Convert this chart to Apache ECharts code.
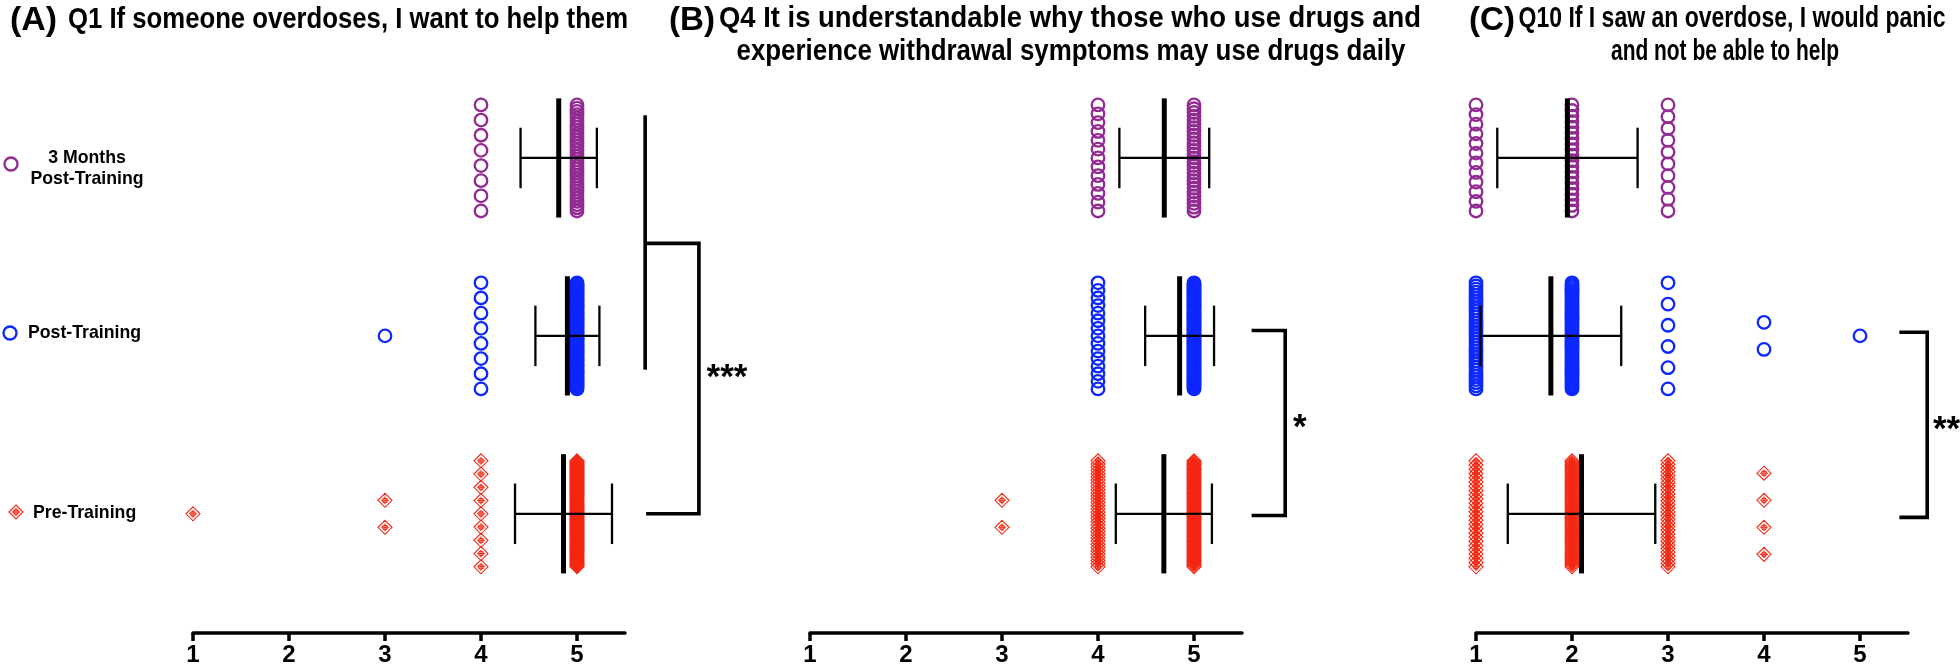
<!DOCTYPE html>
<html><head><meta charset="utf-8">
<script src="https://cdn.jsdelivr.net/npm/echarts@6/dist/echarts.min.js"></script>
<style>html,body{margin:0;padding:0;background:#fff}#c{width:1960px;height:666px}</style>
</head><body><div id="c"></div>
<script>
// ---------------- data ----------------
const likertValues = [1, 2, 3, 4, 5];
const xTickValues = [1, 2, 3, 4, 5];
const groups = ['Pre-Training', 'Post-Training', '3 Months\nPost-Training'];
// number of responses at Likert values 1..5
const q1Pre   = [1, 0, 2, 9, 109];
const q1Post  = [0, 0, 1, 8, 91];
const q1M3    = [0, 0, 0, 8, 34];
const q4Pre   = [0, 0, 2, 34, 85];
const q4Post  = [0, 0, 0, 15, 85];
const q4M3    = [0, 0, 0, 13, 29];
const q10Pre  = [26, 61, 30, 4, 0];
const q10Post = [35, 56, 6, 2, 1];
const q10M3   = [12, 20, 10, 0, 0];
const panelLabels = ['(A)', '(B)', '(C)'];
const titleLines = [
  ['Q1 If someone overdoses, I want to help them'],
  ['Q4 It is understandable why those who use drugs and', 'experience withdrawal symptoms may use drugs daily'],
  ['Q10 If I saw an overdose, I would panic', 'and not be able to help']
];
const significance = ['***', '*', '**'];

// ---------------- layout ----------------
const panels = [[q1Pre, q1Post, q1M3], [q4Pre, q4Post, q4M3], [q10Pre, q10Post, q10M3]];
const gridLefts = [193, 810, 1476];
const GRID_TOP = 69, GRID_H = 564, GRID_W = 432;
const Y_MIN = 0.33, Y_MAX = 3.5;
const MAX_STEP = 0.152, MAX_SPAN = 0.596;
const MEAN_HALF = 0.335, CAP_HALF = 0.17;
const COLORS = ['#F42712', '#0D27FF', '#912A91'];
const DIAMOND = 'path://M10 0L20 10L10 20L0 10Z M10 4.5L10 15.5 M4.5 10L15.5 10 M13.3 10A3.3 3.3 0 1 1 6.7 10A3.3 3.3 0 1 1 13.3 10';
const bracketPaths = [
  [[[5.71, 3.24], [5.71, 1.81]], [[5.71, 2.52], [6.27, 2.52], [6.27, 1.0], [5.72, 1.0]]],
  [[[5.60, 2.03], [5.95, 2.03], [5.95, 0.99], [5.60, 0.99]]],
  [[[5.41, 2.02], [5.70, 2.02], [5.70, 0.98], [5.41, 0.98]]]
];
const starPos = [[6.35, 1.76], [6.03, 1.48], [5.76, 1.47]];
// title line placement: [anchorX, centerY, targetWidth, align]
const titleBoxes = [
  [[68, 20, 560, 'left']],
  [[1070, 19, 702, 'center'], [1071, 52, 669, 'center']],
  [[1732, 19, 427, 'center'], [1725, 52, 228, 'center']]
];
const labelBoxes = [[10, 21, 47], [669, 21, 46], [1469, 21, 46]];
const FF = '"Liberation Sans", Arial, sans-serif';
const TITLE_FONT = 'bold 30px ' + FF;
const LABEL_FONT = 'bold 34px ' + FF;
const LEG_FONT = 'bold 17.7px ' + FF;

const measureCtx = document.createElement('canvas').getContext('2d');
function textW(t, font) { measureCtx.font = font; return measureCtx.measureText(t).width; }

function stackPoints(counts, row) {
  const pts = [];
  counts.forEach((n, i) => {
    if (!n) return;
    const step = n > 1 ? Math.min(MAX_STEP, MAX_SPAN / (n - 1)) : 0;
    for (let k = 0; k < n; k++) pts.push([likertValues[i], row + (k - (n - 1) / 2) * step]);
  });
  return pts;
}
function stats(counts) {
  let n = 0, s = 0;
  counts.forEach((c, i) => { n += c; s += c * likertValues[i]; });
  const m = s / n;
  let ss = 0;
  counts.forEach((c, i) => { ss += c * (likertValues[i] - m) ** 2; });
  return [m, Math.sqrt(ss / (n - 1))];
}

const grids = [], xAxes = [], yAxes = [], series = [];
panels.forEach((grp, p) => {
  grids.push({ left: gridLefts[p], top: GRID_TOP, width: GRID_W, height: GRID_H, containLabel: false, outerBoundsMode: 'none' });
  xAxes.push({
    gridIndex: p, type: 'value', min: 1, max: 5.5,
    axisLine: { show: true, lineStyle: { color: '#000', width: 3.5 } },
    axisTick: { show: true, length: 8, lineStyle: { color: '#000', width: 3.5 }, customValues: xTickValues },
    axisLabel: { show: true, customValues: xTickValues, margin: 10, color: '#000', fontSize: 24, fontWeight: 'bold', fontFamily: 'Liberation Sans' },
    splitLine: { show: false }
  });
  yAxes.push({ gridIndex: p, type: 'value', min: Y_MIN, max: Y_MAX, show: false, splitLine: { show: false } });
  grp.forEach((counts, g) => {
    const isPre = g === 0;
    series.push({
      type: 'scatter', name: groups[g], xAxisIndex: p, yAxisIndex: p,
      data: stackPoints(counts, g + 1),
      symbol: isPre ? DIAMOND : 'circle',
      symbolSize: isPre ? 14 : 12.5,
      itemStyle: { color: 'rgba(255,255,255,0)', borderColor: COLORS[g], borderWidth: isPre ? 1.1 : 2.3, opacity: 1 },
      emphasis: { disabled: true }, z: 2
    });
  });
  series.push({
    type: 'custom', xAxisIndex: p, yAxisIndex: p, z: 5,
    data: grp.map((counts, g) => { const st = stats(counts); return [st[0], st[1], g + 1]; }),
    renderItem: (params, api) => {
      const m = api.value(0), sd = api.value(1), r = api.value(2);
      const c = api.coord([m, r]);
      const lo = api.coord([m - sd, r])[0], hi = api.coord([m + sd, r])[0];
      const t = api.coord([m, r + MEAN_HALF])[1], b = api.coord([m, r - MEAN_HALF])[1];
      const ct = api.coord([m, r + CAP_HALF])[1], cb = api.coord([m, r - CAP_HALF])[1];
      const st = { stroke: '#000', lineWidth: 2.3 };
      return { type: 'group', children: [
        { type: 'line', shape: { x1: lo, y1: c[1], x2: hi, y2: c[1] }, style: st },
        { type: 'line', shape: { x1: lo, y1: ct, x2: lo, y2: cb }, style: st },
        { type: 'line', shape: { x1: hi, y1: ct, x2: hi, y2: cb }, style: st },
        { type: 'line', shape: { x1: c[0], y1: t, x2: c[0], y2: b }, style: { stroke: '#000', lineWidth: 5 } }
      ] };
    }
  });
  series.push({
    type: 'custom', xAxisIndex: p, yAxisIndex: p, z: 5, clip: false,
    data: [[5, 1]],
    renderItem: (params, api) => {
      const children = bracketPaths[p].map(path => ({
        type: 'polyline', shape: { points: path.map(pt => api.coord(pt)) },
        style: { stroke: '#000', lineWidth: 3.6, fill: null }
      }));
      const sp = api.coord(starPos[p]);
      children.push({ type: 'text', x: sp[0], y: sp[1], style: { text: significance[p], font: 'bold 35px ' + FF, fill: '#000', textAlign: 'left', textVerticalAlign: 'middle' } });
      return { type: 'group', children };
    }
  });
});

const graphic = [];
titleLines.forEach((lines, p) => {
  const lb = labelBoxes[p];
  graphic.push({ type: 'text', x: lb[0], y: lb[1], scaleX: lb[2] / textW(panelLabels[p], LABEL_FONT),
    style: { text: panelLabels[p], font: LABEL_FONT, fill: '#000', textAlign: 'left', textVerticalAlign: 'middle' } });
  lines.forEach((ln, i) => {
    const bx = titleBoxes[p][i];
    graphic.push({ type: 'text', x: bx[0], y: bx[1], scaleX: bx[2] / textW(ln, TITLE_FONT),
      style: { text: ln, font: TITLE_FONT, fill: '#000', textAlign: bx[3], textVerticalAlign: 'middle' } });
  });
});
// legend
graphic.push(
  { type: 'circle', shape: { cx: 11, cy: 164, r: 6.5 }, style: { fill: 'none', stroke: COLORS[2], lineWidth: 2.3 } },
  { type: 'text', x: 87, y: 169, style: { text: groups[2], font: LEG_FONT, fill: '#000', textAlign: 'center', textVerticalAlign: 'middle', lineHeight: 21 } },
  { type: 'circle', shape: { cx: 10, cy: 333, r: 6.5 }, style: { fill: 'none', stroke: COLORS[1], lineWidth: 2.3 } },
  { type: 'text', x: 28, y: 333, style: { text: groups[1], font: LEG_FONT, fill: '#000', textAlign: 'left', textVerticalAlign: 'middle' } },
  { type: 'group', x: 16, y: 512, children: [
    { type: 'polygon', shape: { points: [[0, -7], [7, 0], [0, 7], [-7, 0]] }, style: { fill: 'none', stroke: COLORS[0], lineWidth: 1.2 } },
    { type: 'line', shape: { x1: 0, y1: -4, x2: 0, y2: 4 }, style: { stroke: COLORS[0], lineWidth: 1.1 } },
    { type: 'line', shape: { x1: -4, y1: 0, x2: 4, y2: 0 }, style: { stroke: COLORS[0], lineWidth: 1.1 } },
    { type: 'circle', shape: { cx: 0, cy: 0, r: 2.4 }, style: { fill: 'none', stroke: COLORS[0], lineWidth: 1.1 } }
  ] },
  { type: 'text', x: 33, y: 513, style: { text: groups[0], font: LEG_FONT, fill: '#000', textAlign: 'left', textVerticalAlign: 'middle' } }
);

const chart = echarts.init(document.getElementById('c'), null, { renderer: 'canvas' });
chart.setOption({
  animation: false, backgroundColor: '#fff',
  grid: grids, xAxis: xAxes, yAxis: yAxes, series, graphic
});
</script></body></html>
